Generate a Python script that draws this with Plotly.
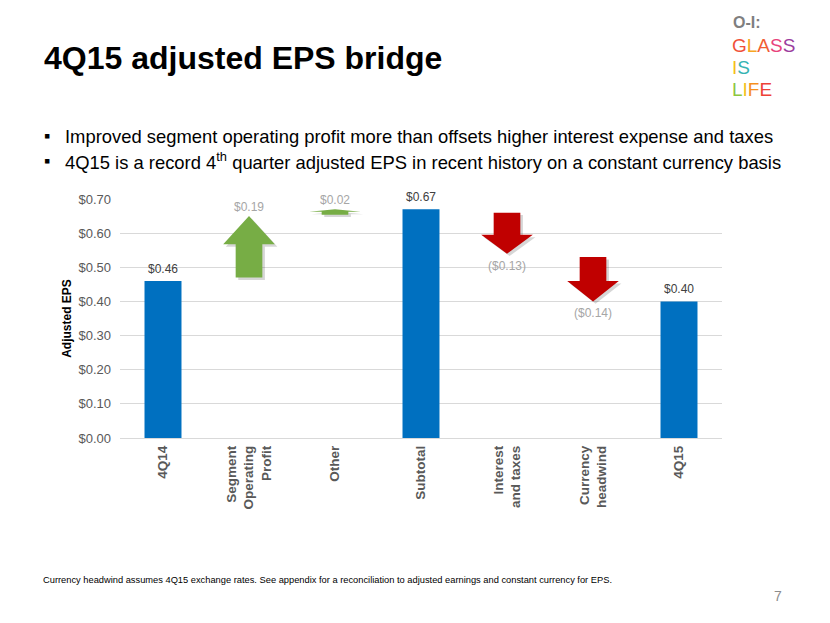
import plotly.graph_objects as go

# ---------------- data ----------------
categories = ["4Q14", "Segment<br>Operating<br>Profit", "Other", "Subtotal",
              "Interest<br>and taxes", "Currency<br>headwind", "4Q15"]
kinds = ["total", "delta", "delta", "total", "delta", "delta", "total"]
values = [0.46, 0.19, 0.02, 0.67, -0.13, -0.14, 0.40]
value_labels = ["$0.46", "$0.19", "$0.02", "$0.67", "($0.13)", "($0.14)", "$0.40"]
y_ticks = [0.0, 0.1, 0.2, 0.3, 0.4, 0.5, 0.6, 0.7]
y_tick_labels = ["$0.00", "$0.10", "$0.20", "$0.30", "$0.40", "$0.50", "$0.60", "$0.70"]

title_text = "4Q15 adjusted EPS bridge"
bullets = [
    "Improved segment operating profit more than offsets higher interest expense and taxes",
    "4Q15 is a record 4<sup>th</sup> quarter adjusted EPS in recent history on a constant currency basis",
]
footnote = ("Currency headwind assumes 4Q15 exchange rates. See appendix for a reconciliation "
            "to adjusted earnings and constant currency for EPS.")
page_number = "7"

# ---------------- styles ----------------
FONT = "Liberation Sans, Arial, sans-serif"
BLUE = "#0070C0"
GREEN = "#77AD45"
RED = "#C00000"
W, H = 830, 623
ML, MR, MT, MB = 120, 108, 199, 185
PW, PH = W - ML - MR, H - MT - MB


def px_x(px):
    return (px - ML) / PW


def px_y(py):
    return (H - MB - py) / PH


fig = go.Figure()

xs = list(range(len(categories)))

# total bars
bx = [x for x, k in zip(xs, kinds) if k == "total"]
by = [v for v, k in zip(values, kinds) if k == "total"]
fig.add_trace(go.Bar(x=bx, y=by, width=0.43, marker=dict(color=BLUE, line=dict(width=0)),
                     hoverinfo="skip", showlegend=False))

annotations = []

# delta arrows
running = 0.0
SW, HW = 0.155, 0.30
for x, k, v, lab in zip(xs, kinds, values, value_labels):
    if k == "total":
        running = v
        annotations.append(dict(x=x, y=v, xref="x", yref="y", text=lab, showarrow=False,
                                yanchor="bottom", yshift=3,
                                font=dict(family=FONT, size=12, color="#404040")))
        continue
    s = 1 if v > 0 else -1
    inset = 0.01 if abs(v) > 0.05 else 0.004
    y0 = running + s * inset
    y1 = running + v
    hl = 0.46 * abs(y1 - y0)
    yb = y1 - s * hl
    px_ = [x - SW, x - SW, x - HW, x, x + HW, x + SW, x + SW, x - SW]
    py_ = [y0, yb, yb, y1, yb, yb, y0, y0]
    # soft shadow
    fig.add_trace(go.Scatter(x=[p + 0.03 for p in px_], y=[p - 0.007 for p in py_],
                             fill="toself", mode="lines", line=dict(width=0),
                             fillcolor="rgba(0,0,0,0.16)", hoverinfo="skip", showlegend=False))
    fig.add_trace(go.Scatter(x=px_, y=py_, fill="toself", mode="lines", line=dict(width=0),
                             fillcolor=GREEN if v > 0 else RED, hoverinfo="skip",
                             showlegend=False))
    annotations.append(dict(x=x, y=y1, xref="x", yref="y", text=lab, showarrow=False,
                            yanchor="bottom" if v > 0 else "top",
                            yshift=0 if v > 0 else -3,
                            font=dict(family=FONT, size=12, color="#A6A6A6")))
    running = y1

# page texts
annotations.append(dict(x=px_x(42), y=px_y(58), xref="paper", yref="paper", text=f"<b>{title_text}</b>",
                        showarrow=False, xanchor="left", yanchor="middle",
                        font=dict(family=FONT, size=32, color="#000000")))
for i, b in enumerate(bullets):
    yc = 136.5 + i * 25
    annotations.append(dict(x=px_x(42), y=px_y(yc), xref="paper", yref="paper", text="▪",
                            showarrow=False, xanchor="left", yanchor="middle",
                            font=dict(family=FONT, size=18, color="#000000")))
    annotations.append(dict(x=px_x(63), y=px_y(yc), xref="paper", yref="paper", text=b,
                            showarrow=False, xanchor="left", yanchor="middle",
                            font=dict(family=FONT, size=18.4, color="#000000")))
annotations.append(dict(x=px_x(41), y=px_y(580), xref="paper", yref="paper", text=footnote,
                        showarrow=False, xanchor="left", yanchor="middle",
                        font=dict(family=FONT, size=9.3, color="#000000")))
annotations.append(dict(x=px_x(778), y=px_y(596), xref="paper", yref="paper", text=page_number,
                        showarrow=False, xanchor="center", yanchor="middle",
                        font=dict(family=FONT, size=14, color="#8C8C8C")))

# logo
annotations.append(dict(x=px_x(731), y=px_y(22.5), xref="paper", yref="paper",
                        text="<b>O-I:</b>", showarrow=False, xanchor="left", yanchor="middle",
                        font=dict(family=FONT, size=16, color="#7F7F7F")))
logo_lines = [
    (46, [("G", "#F0513A"), ("L", "#F6A623"), ("A", "#F15E34"), ("S", "#E8427C"), ("S", "#9B3D9E")]),
    (67.5, [("I", "#F5BE1A"), ("S", "#35B3B3")]),
    (89, [("L", "#8DC63F"), ("I", "#F2C21B"), ("F", "#F6901E"), ("E", "#EE4136")]),
]
for yc, letters in logo_lines:
    txt = "".join(f"<span style='color:{c}'>{ch}</span>" for ch, c in letters)
    annotations.append(dict(x=px_x(731), y=px_y(yc), xref="paper", yref="paper", text=txt,
                            showarrow=False, xanchor="left", yanchor="middle", borderpad=0,
                            font=dict(family=FONT, size=19, color="#000000")))

fig.update_layout(
    width=W, height=H,
    margin=dict(l=ML, r=MR, t=MT, b=MB, autoexpand=False),
    paper_bgcolor="white", plot_bgcolor="white",
    showlegend=False,
    annotations=annotations,
    xaxis=dict(range=[-0.5, len(categories) - 0.5], tickmode="array", tickvals=xs,
               ticktext=categories, tickangle=-90, showgrid=False, zeroline=False,
               showline=False, ticks="", ticklabelstandoff=4,
               tickfont=dict(family=FONT, size=13.5, color="#595959", weight=700),
               fixedrange=True),
    yaxis=dict(range=[0, 0.7], tickmode="array", tickvals=y_ticks, ticktext=y_tick_labels,
               showgrid=True, gridcolor="#D9D9D9", gridwidth=1, zeroline=True,
               zerolinecolor="#D9D9D9", zerolinewidth=1, showline=False, ticks="",
               ticklabelstandoff=8,
               tickfont=dict(family=FONT, size=13, color="#595959"),
               title=dict(text="Adjusted EPS", standoff=4,
                          font=dict(family=FONT, size=12, color="#000000", weight=700)),
               fixedrange=True),
)

fig.write_html("out.html", config={"displayModeBar": False},
               post_script="document.body.style.margin='0px';document.body.style.overflow='hidden';")
